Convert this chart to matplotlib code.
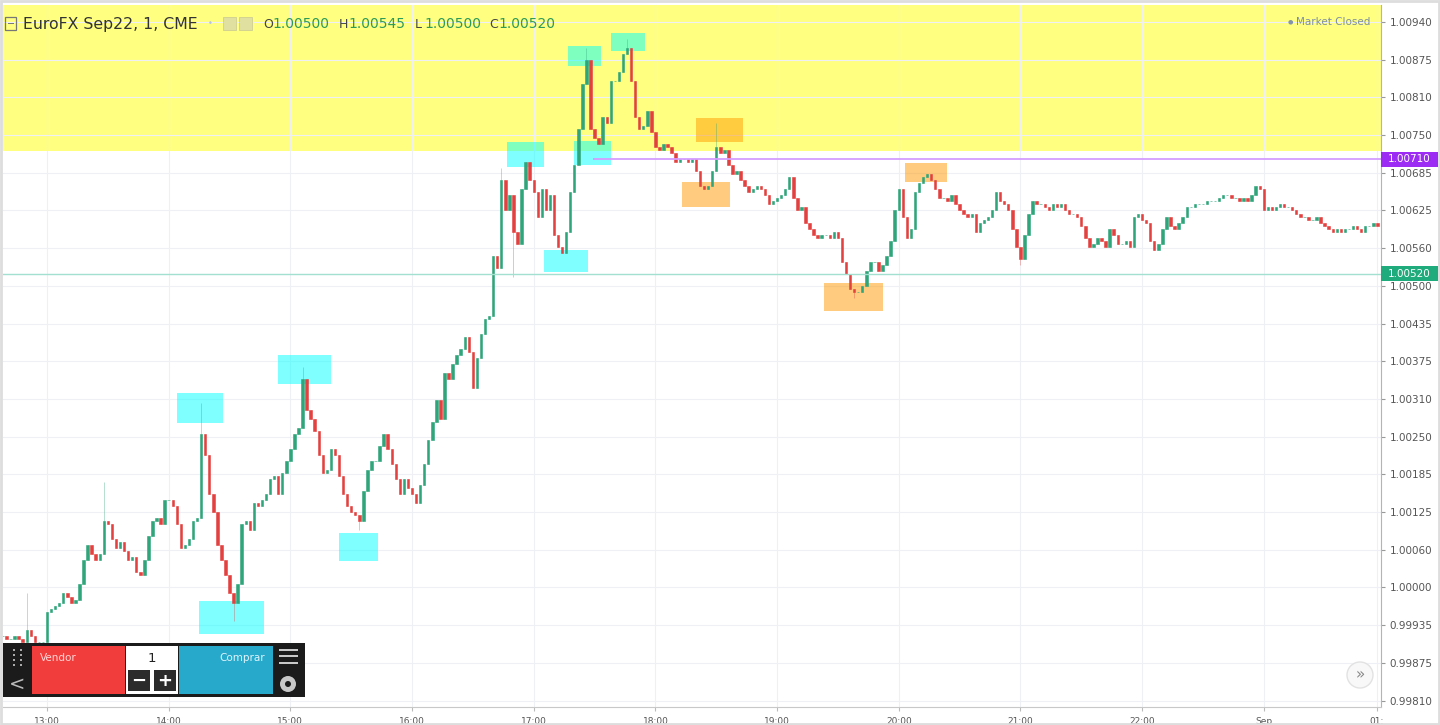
import numpy as np
import matplotlib.pyplot as plt
from matplotlib.patches import Rectangle, Ellipse

W, H = 1440, 725

# 2-minute closes, one list per hour (12h list starts at 12:38)
close_12 = [0.99920, 0.99915, 0.99915, 0.99920, 0.99915, 0.99910, 0.99930, 0.99920, 0.99910, 0.99910, 0.99910]
close_13 = [0.99960, 0.99965, 0.99970, 0.99975, 0.99990, 0.99985, 0.99975, 0.99980, 1.00005, 1.00045,
            1.00070, 1.00055, 1.00045, 1.00055, 1.00110, 1.00105, 1.00080, 1.00065, 1.00075, 1.00060,
            1.00045, 1.00050, 1.00025, 1.00020, 1.00045, 1.00085, 1.00110, 1.00115, 1.00105, 1.00145]
close_14 = [1.00145, 1.00135, 1.00105, 1.00065, 1.00070, 1.00080, 1.00110, 1.00115, 1.00255, 1.00220,
            1.00155, 1.00125, 1.00070, 1.00045, 1.00020, 0.99990, 0.99975, 1.00005, 1.00105, 1.00110,
            1.00095, 1.00140, 1.00135, 1.00145, 1.00155, 1.00180, 1.00185, 1.00155, 1.00190, 1.00210]
close_15 = [1.00230, 1.00255, 1.00265, 1.00345, 1.00295, 1.00280, 1.00260, 1.00220, 1.00190, 1.00195,
            1.00230, 1.00220, 1.00185, 1.00155, 1.00135, 1.00125, 1.00120, 1.00110, 1.00160, 1.00195,
            1.00210, 1.00210, 1.00235, 1.00255, 1.00230, 1.00205, 1.00180, 1.00155, 1.00180, 1.00165]
close_16 = [1.00155, 1.00140, 1.00170, 1.00205, 1.00245, 1.00275, 1.00310, 1.00280, 1.00355, 1.00345,
            1.00370, 1.00385, 1.00395, 1.00415, 1.00390, 1.00330, 1.00380, 1.00420, 1.00445, 1.00450,
            1.00550, 1.00530, 1.00675, 1.00625, 1.00650, 1.00590, 1.00570, 1.00660, 1.00705, 1.00675]
close_17 = [1.00655, 1.00615, 1.00660, 1.00625, 1.00650, 1.00585, 1.00565, 1.00555, 1.00590, 1.00655,
            1.00700, 1.00760, 1.00835, 1.00875, 1.00760, 1.00745, 1.00735, 1.00780, 1.00770, 1.00840,
            1.00840, 1.00855, 1.00885, 1.00895, 1.00840, 1.00780, 1.00760, 1.00765, 1.00790, 1.00755]
close_18 = [1.00730, 1.00725, 1.00735, 1.00730, 1.00720, 1.00705, 1.00710, 1.00710, 1.00705, 1.00710,
            1.00690, 1.00665, 1.00660, 1.00665, 1.00690, 1.00730, 1.00720, 1.00725, 1.00700, 1.00685,
            1.00690, 1.00675, 1.00665, 1.00655, 1.00660, 1.00665, 1.00660, 1.00650, 1.00635, 1.00640]
close_19 = [1.00645, 1.00650, 1.00660, 1.00680, 1.00645, 1.00625, 1.00630, 1.00605, 1.00595, 1.00585,
            1.00580, 1.00585, 1.00585, 1.00580, 1.00590, 1.00580, 1.00540, 1.00520, 1.00495, 1.00490,
            1.00490, 1.00500, 1.00525, 1.00540, 1.00540, 1.00525, 1.00535, 1.00550, 1.00575, 1.00625]
close_20 = [1.00660, 1.00615, 1.00580, 1.00595, 1.00655, 1.00670, 1.00680, 1.00685, 1.00675, 1.00660,
            1.00645, 1.00645, 1.00640, 1.00650, 1.00635, 1.00625, 1.00620, 1.00615, 1.00620, 1.00590,
            1.00605, 1.00610, 1.00615, 1.00625, 1.00655, 1.00640, 1.00635, 1.00625, 1.00595, 1.00565]
close_21 = [1.00545, 1.00585, 1.00620, 1.00640, 1.00635, 1.00635, 1.00630, 1.00625, 1.00635, 1.00630,
            1.00635, 1.00625, 1.00620, 1.00620, 1.00615, 1.00600, 1.00580, 1.00565, 1.00570, 1.00580,
            1.00575, 1.00565, 1.00595, 1.00585, 1.00570, 1.00570, 1.00575, 1.00565, 1.00615, 1.00620]
close_22 = [1.00610, 1.00605, 1.00575, 1.00560, 1.00570, 1.00595, 1.00615, 1.00600, 1.00595, 1.00605,
            1.00615, 1.00630, 1.00630, 1.00635, 1.00635, 1.00635, 1.00640, 1.00640, 1.00640, 1.00645,
            1.00650, 1.00650, 1.00645, 1.00645, 1.00640, 1.00645, 1.00640, 1.00650, 1.00665, 1.00660]
close_23 = [1.00625, 1.00630, 1.00625, 1.00630, 1.00635, 1.00630, 1.00630, 1.00625, 1.00620, 1.00615,
            1.00615, 1.00610, 1.00610, 1.00615, 1.00605, 1.00600, 1.00595, 1.00590, 1.00595, 1.00590,
            1.00595, 1.00595, 1.00600, 1.00595, 1.00590, 1.00600, 1.00600, 1.00605, 1.00600]

# wick extremes that stick out of the bodies
wick_time = ["12:50", "13:28", "14:16", "14:32", "15:06", "15:34", "16:44", "16:50",
             "17:26", "17:46", "18:30", "19:38", "21:00"]
wick_price = [0.99990, 1.00175, 1.00305, 0.99945, 1.00365, 1.00095, 1.00695, 1.00515,
              1.00895, 1.00910, 1.00770, 1.00480, 1.00535]

# drawn rectangles: start, end, low, high, kind
box_start = ["14:04", "14:15", "14:54", "15:24", "16:47", "17:05", "17:17", "17:38", "17:20",
             "18:20", "18:13", "19:23", "20:03"]
box_end = ["14:27", "14:47", "15:20", "15:43", "17:05", "17:27", "17:33", "17:55", "17:38",
           "18:43", "18:37", "19:52", "20:24"]
box_low = [1.00273, 0.99923, 1.00337, 1.00044, 1.00697, 1.00523, 1.00865, 1.00889, 1.00700,
           1.00739, 1.00631, 1.00458, 1.00672]
box_high = [1.00322, 0.99978, 1.00385, 1.00090, 1.00739, 1.00560, 1.00898, 1.00919, 1.00740,
            1.00778, 1.00672, 1.00505, 1.00704]
box_kind = ["c"] * 9 + ["o"] * 4

zone_low = 1.00724
purple_level = 1.00710
purple_from = "17:29"
green_level = 1.00520

ytick_vals = [0.998125 + 0.000625 * k for k in range(19)]
ytick_labels = ["0.99810", "0.99875", "0.99935", "1.00000", "1.00060", "1.00125", "1.00185",
                "1.00250", "1.00310", "1.00375", "1.00435", "1.00500", "1.00560", "1.00625",
                "1.00685", "1.00750", "1.00810", "1.00875", "1.00940"]
xtick_labels = ["13:00", "14:00", "15:00", "16:00", "17:00", "18:00", "19:00", "20:00",
                "21:00", "22:00", "Sep", "01:"]


def tmin(s):
    h, m = map(int, s.split(":"))
    return (h - 13) * 60 + m


# assemble candles (x = minutes after 13:00)
hour_lists = [(12, close_12, 38)] + [(h, c, 0) for h, c in zip(range(13, 24),
              [close_13, close_14, close_15, close_16, close_17, close_18, close_19,
               close_20, close_21, close_22, close_23])]
t, closes = [], []
for h, lst, m0 in hour_lists:
    for j, c in enumerate(lst):
        t.append((h - 13) * 60 + m0 + 2 * j)
        closes.append(c)
t = np.array(t, dtype=float)
closes = np.array(closes)
opens = np.concatenate([[closes[0]], closes[:-1]])
highs = np.maximum(opens, closes)
lows = np.minimum(opens, closes)
for ws, wp in zip(wick_time, wick_price):
    i = np.argmin(np.abs(t - tmin(ws)))
    highs[i] = max(highs[i], wp)
    lows[i] = min(lows[i], wp)

up = closes >= opens
colors = np.where(up, "#2ea57a", "#e2413f")

fig = plt.figure(figsize=(W / 100, H / 100), dpi=100)
fig.patch.set_facecolor("white")
ax = fig.add_axes([3 / W, 18 / H, 1378 / W, 702 / H])
ax.set_xlim(-21.7, 657.8)
ax.set_ylim(0.998018, 1.009657)

ax.axhspan(zone_low, 1.0097, color="#ffff80", lw=0, zorder=0)
ax.set_axisbelow(True)
ax.grid(True, color="#eef0f5", lw=0.8)

for s, e, lo, hi, k in zip(box_start, box_end, box_low, box_high, box_kind):
    fc = "#00ffff" if k == "c" else "#ff9800"
    ax.add_patch(Rectangle((tmin(s), lo), tmin(e) - tmin(s), hi - lo, fc=fc, alpha=0.5,
                           lw=0, zorder=1))

ax.vlines(t, lows, highs, colors=colors, lw=0.7, alpha=0.35, zorder=2)
ax.bar(t, closes - opens, bottom=opens, width=1.2, color=colors, edgecolor=colors,
       lw=0.4, zorder=3)

ax.hlines(purple_level, tmin(purple_from), 660, color="#d49cff", lw=1.3, zorder=4)
ax.axhline(green_level, color="#a3e0cf", lw=1.0, zorder=4)

# axes styling
for sp in ["top", "left"]:
    ax.spines[sp].set_visible(False)
ax.spines["right"].set_color("#b4b4b4")
ax.spines["bottom"].set_color("#c8c8c8")
ax.yaxis.tick_right()
ax.set_yticks(ytick_vals)
ax.set_yticklabels(ytick_labels)
ax.set_xticks([0, 60, 120, 180, 240, 300, 360, 420, 480, 540, 600, 655.8])
ax.set_xticklabels(xtick_labels)
ax.tick_params(axis="y", length=3, pad=3, labelsize=7.5, labelcolor="#555555", color="#999999")
ax.tick_params(axis="x", length=3, pad=4, labelsize=6.5, labelcolor="#555555", color="#bbbbbb")

# price labels on the scale
yt = ax.get_yaxis_transform()
for lvl, col in [(purple_level, "#9c2cf3"), (green_level, "#1fab7c")]:
    ax.add_patch(Rectangle((1.0, lvl - 0.000125), 57 / 1378, 0.00025, transform=yt,
                           fc=col, ec="none", clip_on=False, zorder=10))
    ax.text(1.0 + 28 / 1378, lvl, f"{lvl:.5f}", transform=yt, ha="center", va="center",
            color="white", fontsize=7.5, zorder=11, clip_on=False)


def prect(x0, y0, x1, y1, **kw):
    fig.add_artist(Rectangle((x0 / W, 1 - y1 / H), (x1 - x0) / W, (y1 - y0) / H,
                             transform=fig.transFigure, **kw))


def pell(x, y, r, **kw):
    fig.add_artist(Ellipse((x / W, 1 - y / H), 2 * r / W, 2 * r / H,
                           transform=fig.transFigure, **kw))


def ptext(x, y, s, **kw):
    fig.text(x / W, 1 - y / H, s, **kw)


# header
prect(5, 17, 16, 30, fc="none", ec="#777777", lw=0.9)
prect(7.5, 23, 13.5, 24, fc="#777777", ec="none")
ptext(23, 24, "EuroFX Sep22, 1, CME", fontsize=11.3, color="#333333", va="center")
ptext(210, 24, "•", fontsize=6, color="#b8c4d8", va="center", ha="center")
prect(223, 17, 236, 30, fc="#e0e0a0", ec="#cfcf90", lw=0.6)
prect(239, 17, 252, 30, fc="#e0e0a0", ec="#cfcf90", lw=0.6)
for lx, letter, val in [(263, "O", "1.00500"), (339, "H", "1.00545"),
                        (415, "L", "1.00500"), (489, "C", "1.00520")]:
    ptext(lx, 24, letter, fontsize=9, color="#444444", va="center")
    ptext(lx + 9.5, 24, val, fontsize=10, color="#2e9a58", va="center")
ptext(1290, 22, "●", fontsize=4.5, color="#8494aa", va="center", ha="center")
ptext(1296, 22, "Market Closed", fontsize=7.5, color="#7d8ea3", va="center")

# order panel
prect(3, 643, 305, 697, fc="#1b1b1b", ec="none")
prect(32, 646, 125, 694, fc="#f23d3d", ec="none")
prect(126, 646, 178, 694, fc="white", ec="none")
prect(179, 646, 273, 694, fc="#27a9cc", ec="none")
ptext(40, 658, "Vendor", fontsize=7.5, color="#ffd6d6", va="center")
ptext(265, 658, "Comprar", fontsize=7.5, color="#dff4fb", va="center", ha="right")
ptext(152, 659, "1", fontsize=9.5, color="#222222", va="center", ha="center")
prect(128, 670, 150, 691, fc="#2b2b2b", ec="none")
prect(154, 670, 176, 691, fc="#2b2b2b", ec="none")
ptext(139, 681, "−", fontsize=13, color="white", va="center", ha="center", fontweight="bold")
ptext(165, 681, "+", fontsize=13, color="white", va="center", ha="center", fontweight="bold")
for yy in [649, 655, 662]:
    prect(279, yy, 298, yy + 2, fc="#c8c8c8", ec="none")
pell(288, 684, 8, fc="#c8c8c8", ec="none")
pell(288, 684, 3, fc="#1b1b1b", ec="none")
for gx in [13, 20]:
    for gy in [649, 654, 659, 664]:
        prect(gx, gy, gx + 2, gy + 2, fc="#aaaaaa", ec="none")
ptext(17, 684, "<", fontsize=14, color="#bbbbbb", va="center", ha="center")

# scroll button
pell(1360, 675, 13, fc="#f8f8f8", ec="#e2e2e2", lw=1)
ptext(1360, 675, "»", fontsize=11, color="#888888", va="center", ha="center")

# screenshot frame
prect(0.5, 0.5, W - 1, H - 1, fc="none", ec="#dddddd", lw=2)

fig.savefig("out.png", dpi=100)
